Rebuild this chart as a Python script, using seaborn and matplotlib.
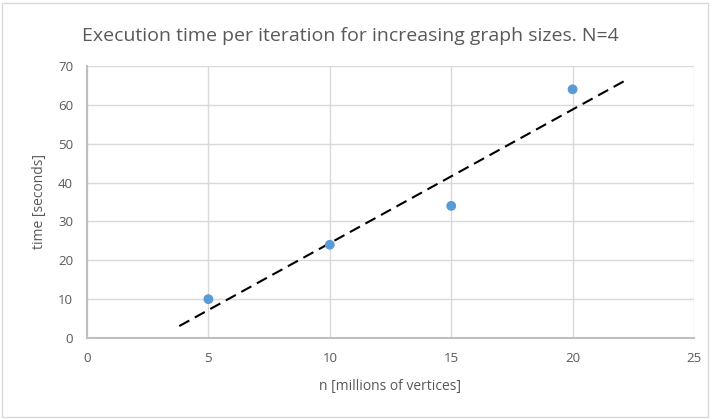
import matplotlib
matplotlib.use('Agg')
import matplotlib.pyplot as plt
from matplotlib.patches import Rectangle
import numpy as np
import pandas as pd
import seaborn as sns

# data
n_vertices = [5, 10, 15, 20]
time_sec = [10, 24, 34, 64]
trend_from = 3.8
trend_to = 22.2

df = pd.DataFrame({'n': n_vertices, 'time': time_sec})

sns.set_style("white")
plt.rcParams['font.family'] = ['Open Sans', 'DejaVu Sans']

fig = plt.figure(figsize=(7.12, 4.19), dpi=100)
ax = fig.add_axes([0.1222, 0.1933, 0.8525, 0.6492])

# outer chart border
fig.patches.append(Rectangle((0.003, 0.004), 0.992, 0.99, transform=fig.transFigure,
                             fill=False, edgecolor='#d9d9d9', linewidth=1))

# linear trendline (least squares on the points)
slope, intercept = np.polyfit(df['n'], df['time'], 1)
xs = np.array([trend_from, trend_to])
ax.plot(xs, slope * xs + intercept, color='black', linestyle=(0, (5.5, 3)),
        linewidth=1.5, zorder=2)

sns.scatterplot(data=df, x='n', y='time', ax=ax, color='#5b9bd5',
                s=50, edgecolor='none', zorder=3)

ax.set_xlim(0, 25)
ax.set_ylim(0, 70)
ax.set_xticks(range(0, 26, 5))
ax.set_yticks(range(0, 71, 10))
ax.grid(True, color='#d9d9d9', linewidth=1)
ax.set_axisbelow(True)

for side in ['top', 'right']:
    ax.spines[side].set_visible(False)
for side in ['left', 'bottom']:
    ax.spines[side].set_color('#bfbfbf')
    ax.spines[side].set_linewidth(1.5)

ax.tick_params(axis='both', length=0, labelsize=9.5, labelcolor='#595959', pad=10)
ax.set_xlabel('n [millions of vertices]', fontsize=10, color='#595959', labelpad=10)
ax.set_ylabel('time [seconds]', fontsize=10, color='#595959', labelpad=8)
fig.suptitle('Execution time per iteration for increasing graph sizes. N=4',
             fontsize=14, color='#595959', x=0.492, y=0.935)

fig.savefig('out.png', dpi=100)
